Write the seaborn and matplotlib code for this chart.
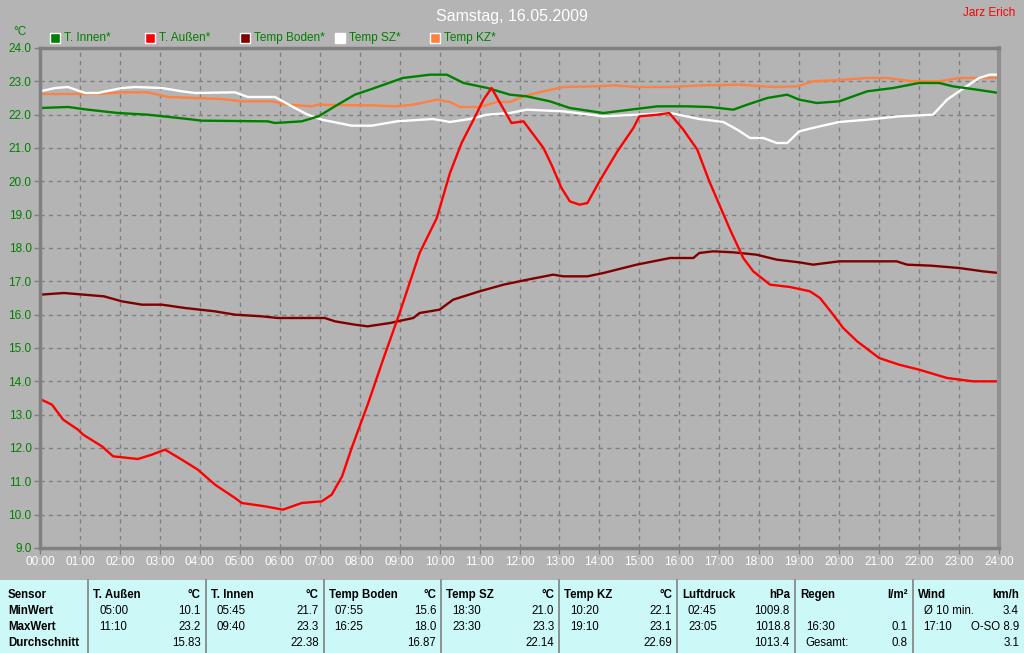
import matplotlib
matplotlib.use("Agg")
import matplotlib.pyplot as plt
import pandas as pd
import seaborn as sns
from matplotlib.patches import Rectangle

# --- data (hour of day, temperature in degC) ---
inn_h = [0, 0.7, 1.2, 1.95, 2.7, 3.7, 4.05, 5.7, 5.88, 6.55, 6.97, 7.38, 7.88, 8.3, 9.08, 9.76, 10.18, 10.6,
         11.2, 11.76, 12.18, 12.76, 13.26, 14.1, 14.77, 15.45, 16.2, 16.77, 17.35, 17.7, 18.2, 18.7, 19.0,
         19.44, 20.0, 20.7, 21.35, 22.0, 22.5, 22.85, 23.45, 24]
inn_t = [22.2, 22.23, 22.15, 22.05, 22.0, 21.87, 21.82, 21.8, 21.75, 21.8, 21.95, 22.25, 22.6, 22.77, 23.1,
         23.2, 23.2, 22.95, 22.8, 22.6, 22.55, 22.4, 22.2, 22.05, 22.15, 22.25, 22.25, 22.23, 22.15, 22.3,
         22.5, 22.6, 22.45, 22.35, 22.4, 22.7, 22.8, 22.95, 22.95, 22.85, 22.75, 22.65]

aus_h = [0, 0.3, 0.58, 0.95, 1.08, 1.55, 1.83, 2.45, 2.8, 3.13, 3.55, 3.95, 4.38, 4.88, 5.05, 5.63, 6.08,
         6.55, 7.05, 7.3, 7.56, 7.8, 8.2, 8.6, 9.0, 9.5, 9.93, 10.26, 10.55, 10.85, 11.1, 11.3, 11.8, 12.1,
         12.6, 12.8, 13.05, 13.26, 13.5, 13.7, 14.0, 14.45, 14.85, 15.0, 15.45, 15.75, 16.1, 16.45, 16.75,
         17.27, 17.6, 17.85, 18.27, 18.77, 19.27, 19.52, 19.85, 20.1, 20.45, 21.0, 21.5, 22.0, 22.7, 23.35, 24]
aus_t = [13.47, 13.3, 12.85, 12.55, 12.4, 12.05, 11.75, 11.67, 11.8, 11.95, 11.65, 11.35, 10.9, 10.5, 10.35,
         10.25, 10.15, 10.35, 10.4, 10.6, 11.15, 12.0, 13.3, 14.7, 16.05, 17.85, 18.9, 20.25, 21.15, 21.85,
         22.45, 22.8, 21.75, 21.8, 21.0, 20.5, 19.8, 19.4, 19.3, 19.35, 20.0, 20.9, 21.6, 21.95, 22.0, 22.05,
         21.55, 20.95, 20.0, 18.55, 17.7, 17.3, 16.9, 16.83, 16.7, 16.5, 16.0, 15.6, 15.2, 14.7, 14.5, 14.35,
         14.1, 14.0, 14.0]

bod_h = [0, 0.6, 1.1, 1.6, 2.05, 2.55, 3.05, 3.63, 4.38, 4.88, 5.55, 5.95, 7.13, 7.38, 7.88, 8.2, 8.76,
         9.34, 9.5, 10.0, 10.34, 11.0, 11.6, 12.2, 12.84, 13.1, 13.7, 14.1, 14.93, 15.35, 15.77, 16.35, 16.5,
         16.85, 17.35, 17.93, 18.44, 19.0, 19.35, 20.0, 21.44, 21.7, 22.3, 23.0, 23.6, 24]
bod_t = [16.6, 16.65, 16.6, 16.55, 16.4, 16.3, 16.3, 16.2, 16.1, 16.0, 15.95, 15.9, 15.9, 15.8, 15.7, 15.65,
         15.75, 15.9, 16.05, 16.15, 16.45, 16.7, 16.9, 17.05, 17.2, 17.15, 17.15, 17.25, 17.5, 17.6, 17.7,
         17.7, 17.85, 17.9, 17.87, 17.8, 17.65, 17.57, 17.5, 17.6, 17.6, 17.5, 17.47, 17.4, 17.3, 17.25]

sz_h = [0, 0.38, 0.7, 1.13, 1.45, 2.05, 2.38, 3.05, 3.55, 3.88, 4.88, 5.2, 5.88, 6.38, 6.7, 7.05, 7.8, 8.3,
        8.93, 9.83, 10.26, 10.76, 11.18, 11.76, 12.18, 13.1, 14.1, 14.93, 15.77, 16.5, 17.1, 17.45, 17.77,
        18.1, 18.44, 18.7, 19.0, 19.44, 20.0, 20.7, 21.5, 22.35, 22.7, 23.0, 23.5, 23.77, 24]
sz_t = [22.7, 22.8, 22.83, 22.65, 22.65, 22.8, 22.83, 22.8, 22.7, 22.65, 22.67, 22.53, 22.53, 22.2, 22.0,
        21.85, 21.67, 21.67, 21.8, 21.87, 21.78, 21.87, 22.0, 22.05, 22.15, 22.1, 21.95, 22.0, 22.05, 21.87,
        21.78, 21.55, 21.3, 21.3, 21.15, 21.15, 21.5, 21.63, 21.78, 21.85, 21.95, 22.0, 22.45, 22.7, 23.1,
        23.2, 23.2]

kz_h = [0, 0.95, 1.45, 2.05, 2.7, 3.2, 3.88, 4.55, 5.05, 5.8, 6.2, 6.8, 6.95, 7.88, 8.3, 8.93, 9.34, 9.93,
        10.26, 10.51, 11.0, 11.43, 11.76, 12.1, 12.6, 13.1, 13.93, 14.35, 14.93, 15.77, 16.6, 17.5, 18.35,
        18.95, 19.35, 19.85, 20.7, 21.2, 21.85, 22.5, 23.0, 24]
kz_t = [22.62, 22.62, 22.62, 22.67, 22.67, 22.53, 22.5, 22.47, 22.4, 22.4, 22.3, 22.25, 22.3, 22.28, 22.28,
        22.25, 22.3, 22.45, 22.38, 22.23, 22.23, 22.38, 22.38, 22.55, 22.7, 22.83, 22.85, 22.88, 22.83, 22.83,
        22.88, 22.9, 22.83, 22.85, 23.0, 23.03, 23.1, 23.1, 23.0, 23.0, 23.1, 23.1]

sensors = ["T. Innen*", "T. Außen*", "Temp Boden*", "Temp SZ*", "Temp KZ*"]
colors = ["#008000", "#ff0000", "#800000", "#ffffff", "#ff8040"]
x_labels = ["%02d:00" % h for h in range(25)]
y_ticks = [9 + i for i in range(16)]

# summary table under the chart
table_heads = ["T. Außen", "T. Innen", "Temp Boden", "Temp SZ", "Temp KZ", "Luftdruck", "Regen", "Wind"]
table_units = ["°C", "°C", "°C", "°C", "°C", "hPa", "l/m²", "km/h"]
min_time = ["05:00", "05:45", "07:55", "18:30", "10:20", "02:45", "", "Ø 10 min."]
min_val = ["10.1", "21.7", "15.6", "21.0", "22.1", "1009.8", "", "3.4"]
max_time = ["11:10", "09:40", "16:25", "23:30", "19:10", "23:05", "16:30", "17:10"]
max_val = ["23.2", "23.3", "18.0", "23.3", "23.1", "1018.8", "0.1", "O-SO 8.9"]
avg_label = ["", "", "", "", "", "", "Gesamt:", ""]
avg_val = ["15.83", "22.38", "16.87", "22.14", "22.69", "1013.4", "0.8", "3.1"]
row_names = ["Sensor", "MinWert", "MaxWert", "Durchschnitt"]

frames = []
for name, hh, tt in zip(sensors, [inn_h, aus_h, bod_h, sz_h, kz_h], [inn_t, aus_t, bod_t, sz_t, kz_t]):
    frames.append(pd.DataFrame({"hour": hh, "temp": tt, "sensor": name}))
data = pd.concat(frames, ignore_index=True)

W, H = 1024, 653
BG = "#b4b4b4"
GRID = "#808080"
plt.rcParams["font.family"] = ["Liberation Sans", "DejaVu Sans"]


def px(x):
    return x / W


def py(y):
    return 1 - y / H


fig = plt.figure(figsize=(W / 100, H / 100), dpi=100, facecolor=BG)
ax = fig.add_axes([px(40), py(548), px(999) - px(40), py(48) - py(548)])
ax.set_facecolor(BG)

# draw order: soil, outside, KZ, SZ, inside
order = ["Temp Boden*", "Temp KZ*", "Temp SZ*", "T. Innen*", "T. Außen*"]
for name in order:
    sns.lineplot(data=data[data["sensor"] == name], x="hour", y="temp", color=colors[sensors.index(name)],
                 linewidth=1.7, estimator=None, sort=False, ax=ax, legend=False)

ax.set_xlim(0, 24)
ax.set_ylim(9, 24)
ax.set_xticks(range(25))
ax.set_xticklabels(x_labels, color="white", fontsize=8.5)
ax.set_yticks(y_ticks)
ax.set_yticklabels(["%.1f" % v for v in y_ticks], color="#008000", fontsize=8.5)
ax.set_xlabel("")
ax.set_ylabel("")
ax.grid(True, color=GRID, linestyle=(0, (3, 3)), linewidth=1)
ax.tick_params(axis="both", color=GRID, length=4, width=1, pad=2)
for side in ["left", "bottom", "top"]:
    ax.spines[side].set_color(GRID)
    ax.spines[side].set_linewidth(2.5)
ax.spines["right"].set_color("#909090")
ax.spines["right"].set_linewidth(3)

# header texts
fig.text(0.5, py(16), "Samstag, 16.05.2009", color="white", fontsize=11.5, ha="center", va="center")
fig.text(px(1015), py(13), "Jarz Erich", color="#ff0000", fontsize=8.5, ha="right", va="center")
fig.text(px(20), py(32), "°C", color="#008000", fontsize=8.5, ha="center", va="center")

# legend row
for i, (name, col) in enumerate(zip(sensors, colors)):
    x0 = 50 + i * 95
    fig.add_artist(Rectangle((px(x0), py(43)), px(10), py(33) - py(43), transform=fig.transFigure,
                             facecolor=col, edgecolor="white", linewidth=1))
    fig.text(px(x0 + 14), py(38), name, color="#008000", fontsize=8.5, ha="left", va="center")

# summary table
fig.add_artist(Rectangle((0, 0), 1, py(580), transform=fig.transFigure, facecolor="#ccf8f8",
                         edgecolor="none"))
col_left = [88 + i * 117.8 for i in range(8)]
rows_y = [595, 611, 627, 643]
fs = 8.3
for name, y in zip(row_names, rows_y):
    fig.text(px(8), py(y), name, fontsize=fs, fontweight="bold", ha="left", va="center")
for i, left in enumerate(col_left):
    right = col_left[i + 1] if i + 1 < len(col_left) else 1024
    fig.add_artist(plt.Line2D([px(left), px(left)], [py(580), 0], transform=fig.transFigure,
                              color="#808080", linewidth=1.2))
    fig.text(px(left + 5), py(rows_y[0]), table_heads[i], fontsize=fs, fontweight="bold", ha="left", va="center")
    fig.text(px(right - 5), py(rows_y[0]), table_units[i], fontsize=fs, fontweight="bold", ha="right", va="center")
    for y, lab, val in zip(rows_y[1:], [min_time[i], max_time[i], avg_label[i]], [min_val[i], max_val[i], avg_val[i]]):
        fig.text(px(left + 11), py(y), lab, fontsize=fs, ha="left", va="center")
        fig.text(px(right - 5), py(y), val, fontsize=fs, ha="right", va="center")

fig.savefig("out.png", dpi=100, facecolor=BG)
